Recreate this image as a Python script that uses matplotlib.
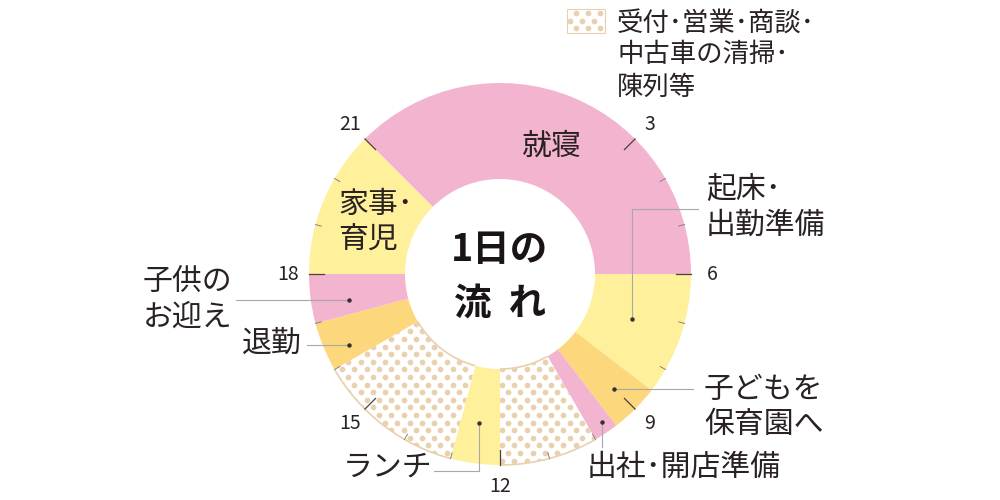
import matplotlib
matplotlib.use("Agg")
import matplotlib.pyplot as plt
from matplotlib.patches import Arc, Rectangle
import numpy as np

plt.rcParams['font.family'] = ['Noto Sans CJK JP', 'DejaVu Sans']

# one day, clockwise starting at 21:00
activities = ['就寝', '起床･出勤準備', '子どもを保育園へ', '出社･開店準備', '受付･営業',
              'ランチ', '受付･営業', '退勤', '子供のお迎え', '家事･育児']
durations = [9, 2.5, 1, 0.5, 2, 1, 3, 1, 1, 3]
kinds = ['pink', 'yellow', 'orange', 'pink', 'dots', 'yellow', 'dots', 'orange', 'pink', 'yellow']
start_hour = 21

hour_labels = [3, 6, 9, 12, 15, 18, 21]
minor_hours = [4, 5, 7, 8, 10, 11, 13, 14, 16, 17, 19, 20]

legend_text = '受付･営業･商談･\n中古車の清掃･\n陳列等'

palette = {'pink': '#f3b4cf', 'yellow': '#fff09b', 'orange': '#fdd77b', 'dots': 'white'}
tan = '#e9d0ae'
ink = '#2a2222'
leader = '#a8a8a8'

CX, CY = 500, 274
R_OUT, R_IN = 191, 95


def hour_pos(h, r):
    a = np.deg2rad(15 * h - 90)
    return CX + r * np.cos(a), CY + r * np.sin(a)


fig = plt.figure(figsize=(10, 5), dpi=100)
ax = fig.add_axes([0, 0, 1, 1])

# axes y is inverted below, so counterclock=True draws clockwise on screen
wedges, _ = ax.pie(durations, colors=[palette[k] for k in kinds],
                   startangle=15 * start_hour - 90 - 360, counterclock=True,
                   radius=R_OUT, center=(CX, CY),
                   wedgeprops=dict(width=R_OUT - R_IN, linewidth=0))

# polka dots for the work segments
gx, gy = [], []
for j, y in enumerate(np.arange(CY - R_OUT - 10, CY + R_OUT + 10, 7.6)):
    off = 6.15 if j % 2 else 0
    for x in np.arange(CX - R_OUT - 10 + off, CX + R_OUT + 10, 12.3):
        gx.append(x)
        gy.append(y)

for w, k in zip(wedges, kinds):
    if k != 'dots':
        continue
    sc = ax.scatter(gx, gy, s=17, color=tan, linewidths=0, zorder=2)
    sc.set_clip_path(w)
    for r in (R_OUT, R_IN):
        ax.add_patch(Arc((CX, CY), 2 * r, 2 * r, theta1=w.theta1, theta2=w.theta2,
                         color=tan, lw=1.2, zorder=3))

# hour ticks
for h in minor_hours:
    x0, y0 = hour_pos(h, R_OUT - 6)
    x1, y1 = hour_pos(h, R_OUT)
    ax.plot([x0, x1], [y0, y1], color='#8a8080', lw=0.7, zorder=4)
for h in hour_labels:
    x0, y0 = hour_pos(h, R_OUT - 15)
    x1, y1 = hour_pos(h, R_OUT)
    ax.plot([x0, x1], [y0, y1], color='#4a4040', lw=0.9, zorder=4)
    tx, ty = hour_pos(h, R_OUT + 21)
    ax.text(tx, ty, str(h), fontsize=14, color=ink, ha='center', va='center')

# centre title
ax.text(CX, 250, '1日の', fontsize=27, fontweight='bold', color='#1a1414',
        ha='center', va='center')
ax.text(CX, 303, '流  れ', fontsize=27, fontweight='bold', color='#1a1414',
        ha='center', va='center')

# labels inside the ring
ax.text(552, 146, '就寝', fontsize=21.5, color=ink, ha='center', va='center', zorder=5)
ax.text(338, 222, '家事･\n育児', fontsize=21.5, color=ink, ha='left', va='center',
        linespacing=1.2, zorder=5)

# labels outside with leader lines
outside = [
    ('起床･\n出勤準備', 706, 207, 'left', [(632, 319), (632, 209), (698, 209)]),
    ('子どもを\n保育園へ', 704, 407, 'left', [(614, 389), (693, 389)]),
    ('出社･開店準備', 587, 467, 'left', [(602, 422), (602, 447)]),
    ('ランチ', 432, 467, 'right', [(479, 423), (479, 471), (434, 471)]),
    ('退勤', 302, 343, 'right', [(349, 345), (307, 345)]),
    ('子供の\nお迎え', 143, 299, 'left', [(349, 300), (236, 300)]),
]
for text, x, y, ha, path in outside:
    ax.text(x, y, text, fontsize=21.5, color=ink, ha=ha, va='center', linespacing=1.2)
    px, py = zip(*path)
    ax.plot(px, py, color=leader, lw=0.8, zorder=6)
    ax.plot(px[0], py[0], 'o', color='#3a3030', ms=2.2, zorder=7)

# legend
box = Rectangle((567, 9), 38, 24, facecolor='white', edgecolor=tan, lw=0.8)
ax.add_patch(box)
sc = ax.scatter(gx, [v - 250 for v in gy], s=17, color=tan, linewidths=0)
sc.set_clip_path(box)
ax.text(617, 55, legend_text, fontsize=19, color=ink, ha='left', va='center',
        linespacing=1.25)

ax.set_xlim(0, 1000)
ax.set_ylim(500, 0)
ax.set_aspect('equal')
ax.axis('off')

fig.savefig('out.png', dpi=100)
